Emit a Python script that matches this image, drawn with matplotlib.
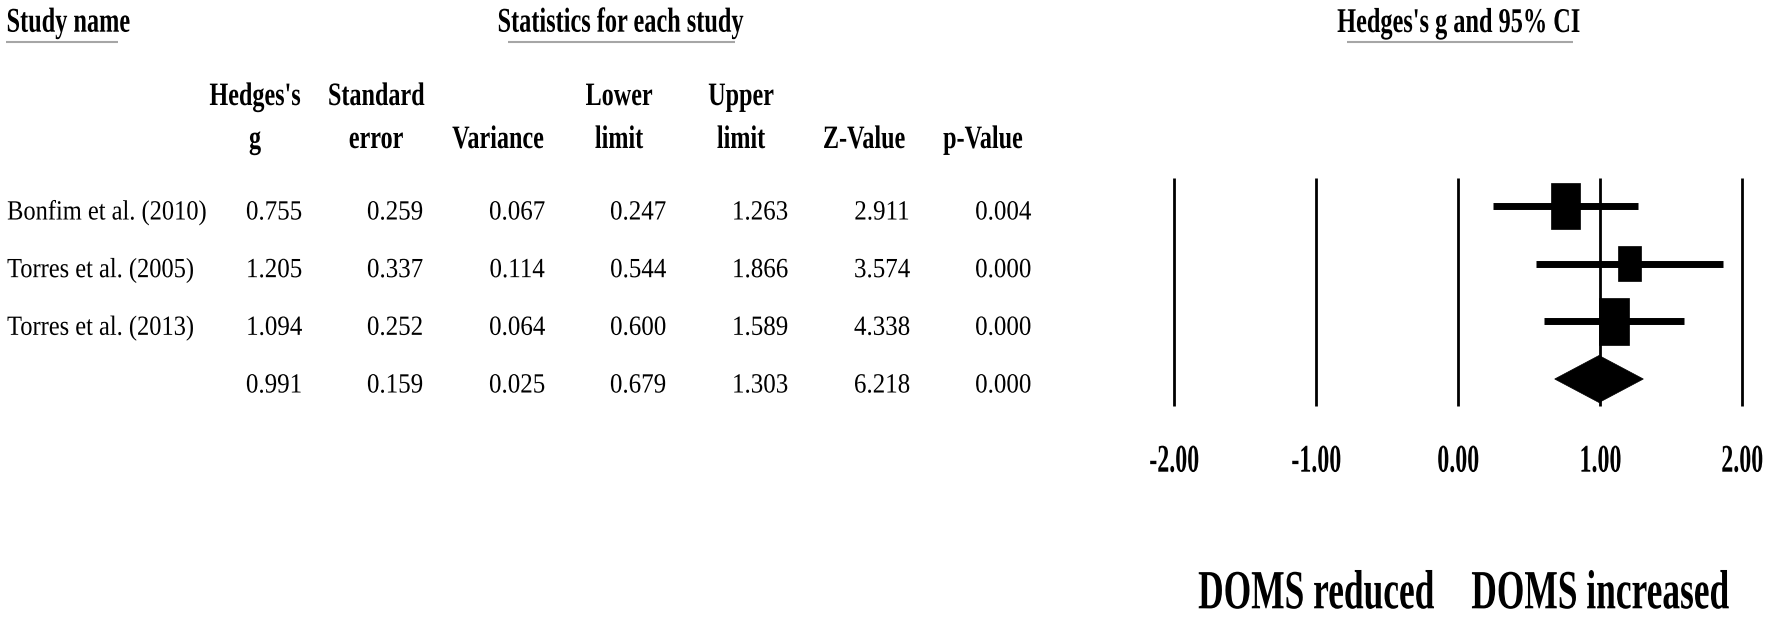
import matplotlib
matplotlib.use("Agg")
import matplotlib.pyplot as plt
import matplotlib.patheffects as pe
from matplotlib.transforms import Affine2D, blended_transform_factory
from matplotlib.patches import Rectangle, Polygon
import numpy as np

# ---------------- data ----------------
studies = ["Bonfim et al. (2010)", "Torres et al. (2005)", "Torres et al. (2013)", ""]
hedges_g = [0.755, 1.205, 1.094, 0.991]
std_err = [0.259, 0.337, 0.252, 0.159]
variance = [0.067, 0.114, 0.064, 0.025]
lower = [0.247, 0.544, 0.600, 0.679]
upper = [1.263, 1.866, 1.589, 1.303]
z_value = [2.911, 3.574, 4.338, 6.218]
p_value = [0.004, 0.000, 0.000, 0.000]
header_top = ["Hedges's", "Standard", "", "Lower", "Upper", "", ""]
header_bottom = ["g", "error", "Variance", "limit", "limit", "Z-Value", "p-Value"]
x_ticks = [-2, -1, 0, 1, 2]
x_tick_labels = ["-2.00", "-1.00", "0.00", "1.00", "2.00"]
side_labels = ["DOMS reduced", "DOMS increased"]
side_label_x = [-1, 1]

W, H = 1772, 618
FONT = "Liberation Serif"


class Narrow(pe.AbstractPathEffect):
    """Draw glyphs in a narrow (condensed) serif look: scale around the anchor
    horizontally and around the baseline vertically."""

    def __init__(self, sx, sy=1.0, anchor="center"):
        super().__init__()
        self.sx = sx
        self.sy = sy
        self.anchor = anchor

    def draw_path(self, renderer, gc, tpath, affine, rgbFace=None):
        ext = tpath.get_extents(affine)
        if self.anchor == "left":
            cx = ext.x0
        elif self.anchor == "right":
            cx = ext.x1
        else:
            cx = 0.5 * (ext.x0 + ext.x1)
        cy = affine.transform([[0.0, 0.0]])[0][1]
        t = affine + Affine2D().translate(-cx, -cy).scale(self.sx, self.sy).translate(cx, cy)
        renderer.draw_path(gc, tpath, t, rgbFace)


fig = plt.figure(figsize=(W / 100, H / 100), dpi=100)
fig.patch.set_facecolor("white")

# pixel-coordinate canvas for the table part
tab = fig.add_axes([0, 0, 1, 1])
tab.set_xlim(0, W)
tab.set_ylim(H, 0)
tab.axis("off")


def put(x, y, s, size, sx, sy=1.0, ha="center", bold=False, transform=None):
    return tab.text(x, y, s, fontsize=size, family=FONT,
                    fontweight="bold" if bold else "normal", ha=ha, va="baseline",
                    color="black", path_effects=[Narrow(sx, sy, ha)],
                    transform=transform if transform is not None else tab.transData)


# ---- section headers with grey underlines ----
put(6, 31.7, "Study name", 25, 0.70, ha="left", bold=True)
tab.plot([6, 118], [41.7, 41.7], color="#a6a6a6", lw=1.5, solid_capstyle="butt")
put(497, 31.7, "Statistics for each study", 25, 0.70, ha="left", bold=True)
tab.plot([508, 735], [41.7, 41.7], color="#a6a6a6", lw=1.5, solid_capstyle="butt")
put(1337, 32, "Hedges's g and 95% CI", 25, 0.70, ha="left", bold=True)
tab.plot([1347, 1573], [41.7, 41.7], color="#a6a6a6", lw=1.5, solid_capstyle="butt")

# ---- column headers ----
head_x = [255, 376, 498, 619, 741, 864, 983]
for cx, t1, t2 in zip(head_x, header_top, header_bottom):
    if t1:
        put(cx, 105, t1, 23.5, 0.74, bold=True)
    put(cx, 148, t2, 23.5, 0.74, bold=True)

# ---- forest plot axes ----
px_unit = (1742.3 - 1174.3) / 4.0
row_px = 57.67
row0_px = 206.0
line_top, line_bot = 178.0, 406.0
ax_left = 1174.3
ax = fig.add_axes([ax_left / W, (H - line_bot) / H, (4 * px_unit) / W, (line_bot - line_top) / H])
ax.set_xlim(-2, 2)
ax.set_ylim((line_bot - row0_px) / row_px, -(row0_px - line_top) / row_px)
ax.axis("off")

ylo, yhi = ax.get_ylim()
ax.vlines(x_ticks, yhi, ylo, colors="black", lw=2.0, clip_on=False, zorder=1)

n = len(hedges_g)
rows = np.arange(n)
weights = 1.0 / np.array(variance[:3])
box_w_px = 30.0 * np.sqrt(weights / weights.max())
for i in range(3):
    ax.plot([lower[i], upper[i]], [rows[i], rows[i]], color="black", lw=5.0,
            solid_capstyle="butt", zorder=2)
    bw = box_w_px[i] / px_unit
    bh = 1.57 * box_w_px[i] / row_px
    ax.add_patch(Rectangle((hedges_g[i] - bw / 2, rows[i] - bh / 2), bw, bh,
                           facecolor="black", edgecolor="black", lw=0.5, zorder=3))

# summary diamond
hh = 23.5 / row_px
r = rows[3]
ax.add_patch(Polygon([[lower[3], r], [hedges_g[3], r - hh], [upper[3], r], [hedges_g[3], r + hh]],
                     closed=True, facecolor="black", edgecolor="black", lw=0.5, zorder=3))

# ---- table values ----
num_x = [274, 395, 517, 638, 760, 882, 1003]
cols = [hedges_g, std_err, variance, lower, upper, z_value, p_value]
for i in range(n):
    base = row0_px + i * row_px + 13.5
    if studies[i]:
        put(7, base, studies[i], 20, 0.88, ha="left")
    for cx, col in zip(num_x, cols):
        put(cx, base, f"{col[i]:.3f}", 20, 0.90)

# ---- x tick labels and side labels ----
blend = blended_transform_factory(ax.transData, tab.transData)
for tv, tl in zip(x_ticks, x_tick_labels):
    put(tv, 471.7, tl, 23, 0.75, sy=1.23, bold=True, transform=blend)
for xv, lab in zip(side_label_x, side_labels):
    put(xv, 608.3, lab, 28, 0.91, sy=1.42, bold=True, transform=blend)

fig.savefig("out.png", dpi=100, facecolor="white")
